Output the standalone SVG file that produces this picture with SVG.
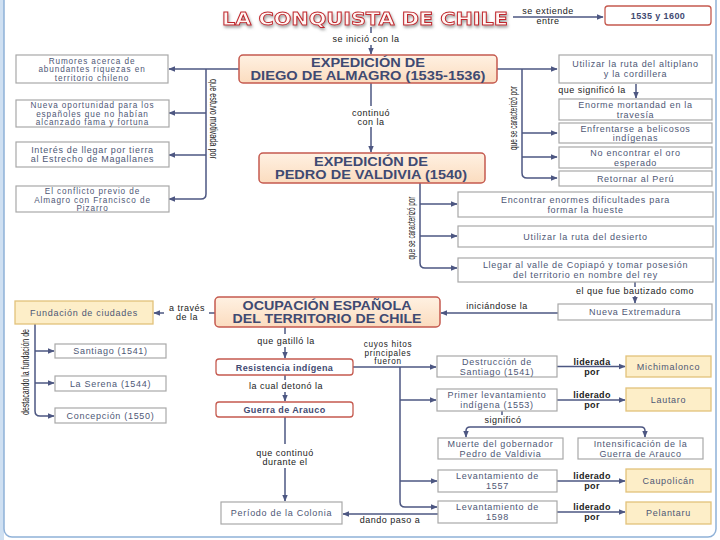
<svg xmlns="http://www.w3.org/2000/svg" width="720" height="540" viewBox="0 0 720 540">
<defs>
<style>
.box{fill:#fff;stroke:#a8a8a8;stroke-width:1.2}
.hdr{fill:url(#peach);stroke:#c55a4f;stroke-width:1.5}
.yel{fill:#fdeec8;stroke:#e2c27a;stroke-width:1.3}
.red{fill:#fff;stroke:#c55a4f;stroke-width:1.3}
.t{font-family:"Liberation Sans",Arial,sans-serif;font-size:9px;fill:#4e5775;text-anchor:middle;letter-spacing:0.7px}
.t3{font-family:"Liberation Sans",Arial,sans-serif;font-size:8.2px;fill:#4e5775;text-anchor:middle;letter-spacing:0.9px}
.h{font-family:"Liberation Sans",Arial,sans-serif;font-weight:bold;font-size:12px;fill:#3f4a72;text-anchor:middle}
.b{font-family:"Liberation Sans",Arial,sans-serif;font-weight:bold;font-size:9px;fill:#3f4a72;text-anchor:middle;letter-spacing:0.4px}
.l{font-family:"Liberation Sans",Arial,sans-serif;font-size:9px;fill:#222;text-anchor:middle;letter-spacing:0.5px}
.l3{font-family:"Liberation Sans",Arial,sans-serif;font-size:8.2px;fill:#222;text-anchor:middle;letter-spacing:0.7px}
.lb{font-family:"Liberation Sans",Arial,sans-serif;font-size:9px;font-weight:bold;fill:#222;text-anchor:middle;letter-spacing:0.3px}
.v{font-family:"Liberation Sans",Arial,sans-serif;font-size:10px;fill:#222;text-anchor:middle}
.c{fill:none;stroke:#4d5782;stroke-width:1.5}
.a{marker-end:url(#ah)}
.title{font-family:"DejaVu Sans",sans-serif;font-weight:bold;font-size:18px;fill:#fff6f4;stroke:#c0272d;stroke-width:0.9;text-anchor:middle;filter:url(#sh)}
</style>
<linearGradient id="peach" x1="0" y1="0" x2="0" y2="1">
<stop offset="0" stop-color="#fff1e2"/>
<stop offset="1" stop-color="#fbdcbf"/>
</linearGradient>
<marker id="ah" viewBox="0 0 10 10" refX="9" refY="5" markerWidth="7" markerHeight="7" markerUnits="userSpaceOnUse" orient="auto">
<path d="M0,1 L10,5 L0,9 z" fill="#4d5782"/>
</marker>
<filter id="sh" x="-10%" y="-50%" width="120%" height="200%">
<feGaussianBlur in="SourceAlpha" stdDeviation="1.5"/>
<feOffset dx="1" dy="2" result="o"/>
<feFlood flood-color="#777" flood-opacity="0.7"/>
<feComposite in2="o" operator="in" result="s"/>
<feMerge><feMergeNode in="s"/><feMergeNode in="SourceGraphic"/></feMerge>
</filter>
</defs>
<rect x="0" y="0" width="720" height="540" fill="#fff"/>
<rect x="0" y="0" width="4" height="540" fill="#cfe0f2"/>
<rect x="4" y="-12" width="712" height="549" rx="8" fill="none" stroke="#8fb1d8" stroke-width="1.5"/>

<g id="title">
<text x="365" y="25" class="title" textLength="286" lengthAdjust="spacingAndGlyphs">LA CONQUISTA DE CHILE</text>
</g>

<g id="connectors">
<path class="c a" d="M513,17 H603"/>
<path class="c" d="M371,27 V33"/>
<path class="c a" d="M371,45 V54"/>
<path class="c a" d="M239,69 H169"/>
<path class="c a" d="M206,69 V194 Q206,199 201,199 H169"/>
<path class="c a" d="M206,113 H169"/>
<path class="c a" d="M206,155 H169"/>
<path class="c a" d="M497,69 H557"/>
<path class="c a" d="M522,69 V173 Q522,178 527,178 H557"/>
<path class="c a" d="M522,133 H557"/>
<path class="c a" d="M522,157 H557"/>
<path class="c a" d="M636,84 V98"/>
<path class="c" d="M371,83 V106"/>
<path class="c a" d="M371,127 V152"/>
<path class="c a" d="M420,183 V263 Q420,268 425,268 H457"/>
<path class="c a" d="M420,204 H457"/>
<path class="c a" d="M420,236 H457"/>
<path class="c" d="M635,282 V287"/>
<path class="c a" d="M635,296 V303"/>
<path class="c a" d="M558,313 H441"/>
<path class="c" d="M215,313 H209"/>
<path class="c a" d="M164,313 H154"/>
<path class="c a" d="M35,324 V411 Q35,416 40,416 H54"/>
<path class="c a" d="M35,351 H54"/>
<path class="c a" d="M35,383 H54"/>
<path class="c" d="M285,327 V334"/>
<path class="c a" d="M285,347 V358"/>
<path class="c" d="M285,375 V380"/>
<path class="c a" d="M285,392 V401"/>
<path class="c" d="M285,417 V444"/>
<path class="c a" d="M285,468 V501"/>
<path class="c a" d="M353,367 H436"/>
<path class="c a" d="M400,367 V502 Q400,507 405,507 H437"/>
<path class="c a" d="M400,400 H436"/>
<path class="c a" d="M400,481 H437"/>
<path class="c a" d="M438,514 H343"/>
<path class="c" d="M502,411 V415"/>
<path class="c a" d="M502,427 H470 Q466,427 466,431 V437"/>
<path class="c a" d="M502,427 H641 Q645,427 645,431 V437"/>
<path class="c a" d="M557,366.5 H625"/>
<path class="c a" d="M557,400 H625"/>
<path class="c a" d="M557,481 H625"/>
<path class="c a" d="M557,512 H625"/>
</g>

<g id="labels">
<text class="l" x="548" y="14">se extiende</text>
<text class="l" x="548" y="24">entre</text>
<text class="l" x="366" y="42">se inició con la</text>
<text class="v" transform="translate(210,119) rotate(90)" textLength="80" lengthAdjust="spacingAndGlyphs">que estuvo motivada por</text>
<text class="v" transform="translate(517,118) rotate(-90)" textLength="64" lengthAdjust="spacingAndGlyphs">que se caracterizó por</text>
<text class="l" x="592" y="93">que significó la</text>
<text class="l" x="371" y="116">continuó</text>
<text class="l" x="371" y="125">con la</text>
<text class="v" transform="translate(415,228) rotate(-90)" textLength="63" lengthAdjust="spacingAndGlyphs">que se caracterizó por</text>
<text class="l" x="635" y="294">el que fue bautizado como</text>
<text class="l" x="497" y="309">iniciándose la</text>
<text class="l" x="187" y="311">a través</text>
<text class="l" x="187" y="320">de la</text>
<text class="v" transform="translate(29,372) rotate(-90)" textLength="86" lengthAdjust="spacingAndGlyphs">destacando la fundación de</text>
<text class="l" x="286" y="344">que gatilló la</text>
<text class="l3" x="388" y="347">cuyos hitos</text>
<text class="l3" x="388" y="355.5">principales</text>
<text class="l3" x="388" y="364">fueron</text>
<text class="l" x="286" y="389">la cual detonó la</text>
<text class="l" x="503" y="423">significó</text>
<text class="l" x="285" y="456">que continuó</text>
<text class="l" x="285" y="465">durante el</text>
<text class="l" x="390" y="523">dando paso a</text>
<text class="lb" x="592" y="364.5">liderada</text>
<text class="lb" x="592" y="374.5">por</text>
<text class="lb" x="592" y="398">liderado</text>
<text class="lb" x="592" y="408">por</text>
<text class="lb" x="592" y="479">liderado</text>
<text class="lb" x="592" y="489">por</text>
<text class="lb" x="592" y="510">liderado</text>
<text class="lb" x="592" y="520">por</text>
</g>

<g id="n-years"><rect class="red" x="605" y="6" width="106" height="19" rx="3"/><text class="b" x="658" y="19">1535 y 1600</text></g>

<g id="n-almagro"><rect class="hdr" x="239" y="55" width="258" height="28" rx="4"/>
<text class="h" x="368" y="67" textLength="114" lengthAdjust="spacingAndGlyphs">EXPEDICIÓN DE</text>
<text class="h" x="368" y="80" textLength="235" lengthAdjust="spacingAndGlyphs">DIEGO DE ALMAGRO (1535-1536)</text></g>

<g id="n-rumores"><rect class="box" x="16" y="55" width="152" height="28"/>
<text class="t3" x="92" y="63.5">Rumores acerca de</text><text class="t3" x="92" y="72">abundantes riquezas en</text><text class="t3" x="92" y="80.5">territorio chileno</text></g>
<g id="n-nueva"><rect class="box" x="16" y="100" width="153" height="27"/>
<text class="t3" x="92.5" y="108">Nueva oportunidad para los</text><text class="t3" x="92.5" y="116.5">españoles que no habían</text><text class="t3" x="92.5" y="125">alcanzado fama y fortuna</text></g>
<g id="n-interes"><rect class="box" x="16" y="142" width="153" height="25"/>
<text class="t" x="92.5" y="153">Interés de llegar por tierra</text><text class="t" x="92.5" y="162">al Estrecho de Magallanes</text></g>
<g id="n-conflicto"><rect class="box" x="16" y="186" width="153" height="26"/>
<text class="t3" x="92.5" y="194">El conflicto previo de</text><text class="t3" x="92.5" y="202.5">Almagro con Francisco de</text><text class="t3" x="92.5" y="211">Pizarro</text></g>

<g id="n-altiplano"><rect class="box" x="559" y="55" width="153" height="28"/>
<text class="t" x="635.5" y="67">Utilizar la ruta del altiplano</text><text class="t" x="635.5" y="77">y la cordillera</text></g>
<g id="n-mortandad"><rect class="box" x="559" y="99" width="153" height="21"/>
<text class="t" x="635.5" y="108">Enorme mortandad en la</text><text class="t" x="635.5" y="117.5">travesía</text></g>
<g id="n-belicosos"><rect class="box" x="559" y="123" width="153" height="20"/>
<text class="t" x="635.5" y="131.5">Enfrentarse a belicosos</text><text class="t" x="635.5" y="141">indígenas</text></g>
<g id="n-oro"><rect class="box" x="559" y="147" width="153" height="21"/>
<text class="t" x="635.5" y="156">No encontrar el oro</text><text class="t" x="635.5" y="165.5">esperado</text></g>
<g id="n-peru"><rect class="box" x="559" y="171" width="153" height="15"/>
<text class="t" x="635.5" y="181.5">Retornar al Perú</text></g>

<g id="n-valdivia"><rect class="hdr" x="259" y="153" width="226" height="30" rx="4"/>
<text class="h" x="371" y="166" textLength="114" lengthAdjust="spacingAndGlyphs">EXPEDICIÓN DE</text>
<text class="h" x="371" y="179" textLength="192" lengthAdjust="spacingAndGlyphs">PEDRO DE VALDIVIA (1540)</text></g>

<g id="n-hueste"><rect class="box" x="458" y="192" width="255" height="25"/>
<text class="t" x="585.5" y="203">Encontrar enormes dificultades para</text><text class="t" x="585.5" y="213">formar la hueste</text></g>
<g id="n-desierto"><rect class="box" x="458" y="226" width="255" height="21"/>
<text class="t" x="585.5" y="239.5">Utilizar la ruta del desierto</text></g>
<g id="n-copiapo"><rect class="box" x="458" y="258" width="255" height="24"/>
<text class="t" x="585.5" y="268">Llegar al valle de Copiapó y tomar posesión</text><text class="t" x="585.5" y="278">del territorio en nombre del rey</text></g>

<g id="n-extremadura"><rect class="box" x="558" y="304" width="154" height="16"/>
<text class="t" x="635" y="315">Nueva Extremadura</text></g>

<g id="n-ocupacion"><rect class="hdr" x="215" y="297" width="225" height="30" rx="4"/>
<text class="h" x="327" y="310" textLength="169" lengthAdjust="spacingAndGlyphs">OCUPACIÓN ESPAÑOLA</text>
<text class="h" x="327" y="323" textLength="189" lengthAdjust="spacingAndGlyphs">DEL TERRITORIO DE CHILE</text></g>

<g id="n-fundacion"><rect class="yel" x="15" y="301" width="138" height="23"/>
<text class="t" x="84" y="316">Fundación de ciudades</text></g>
<g id="n-santiago"><rect class="box" x="55" y="344" width="111" height="14"/><text class="t" x="110.5" y="354">Santiago (1541)</text></g>
<g id="n-serena"><rect class="box" x="55" y="376" width="111" height="15"/><text class="t" x="110.5" y="386.5">La Serena (1544)</text></g>
<g id="n-concepcion"><rect class="box" x="55" y="408" width="111" height="15"/><text class="t" x="110.5" y="418.5">Concepción (1550)</text></g>

<g id="n-resistencia"><rect class="red" x="216" y="359" width="137" height="16" rx="3"/><text class="b" x="284.5" y="370.5">Resistencia indígena</text></g>
<g id="n-guerra"><rect class="red" x="216" y="402" width="137" height="15" rx="3"/><text class="b" x="284.5" y="413">Guerra de Arauco</text></g>
<g id="n-colonia"><rect class="box" x="221" y="502" width="121" height="22"/><text class="t" x="281.5" y="516">Período de la Colonia</text></g>

<g id="n-destruccion"><rect class="box" x="437" y="356" width="120" height="21"/>
<text class="t" x="497" y="365">Destrucción de</text><text class="t" x="497" y="374.5">Santiago (1541)</text></g>
<g id="n-primer"><rect class="box" x="437" y="389" width="120" height="22"/>
<text class="t" x="497" y="398">Primer levantamiento</text><text class="t" x="497" y="408">indígena (1553)</text></g>
<g id="n-muerte"><rect class="box" x="438" y="438" width="125" height="21"/>
<text class="t" x="500.5" y="447">Muerte del gobernador</text><text class="t" x="500.5" y="456.5">Pedro de Valdivia</text></g>
<g id="n-intensificacion"><rect class="box" x="578" y="438" width="125" height="21"/>
<text class="t" x="640.5" y="447">Intensificación de la</text><text class="t" x="640.5" y="456.5">Guerra de Arauco</text></g>
<g id="n-lev1557"><rect class="box" x="438" y="470" width="119" height="22"/>
<text class="t" x="497.5" y="479">Levantamiento de</text><text class="t" x="497.5" y="489">1557</text></g>
<g id="n-lev1598"><rect class="box" x="438" y="501" width="119" height="22"/>
<text class="t" x="497.5" y="510">Levantamiento de</text><text class="t" x="497.5" y="520">1598</text></g>

<g id="n-michimalonco"><rect class="yel" x="626" y="356" width="85" height="21"/><text class="t" x="668.5" y="369.5">Michimalonco</text></g>
<g id="n-lautaro"><rect class="yel" x="626" y="388" width="85" height="23"/><text class="t" x="668.5" y="402.5">Lautaro</text></g>
<g id="n-caupolican"><rect class="yel" x="626" y="469" width="85" height="23"/><text class="t" x="668.5" y="483.5">Caupolicán</text></g>
<g id="n-pelantaru"><rect class="yel" x="626" y="502" width="85" height="22"/><text class="t" x="668.5" y="516">Pelantaru</text></g>
</svg>
